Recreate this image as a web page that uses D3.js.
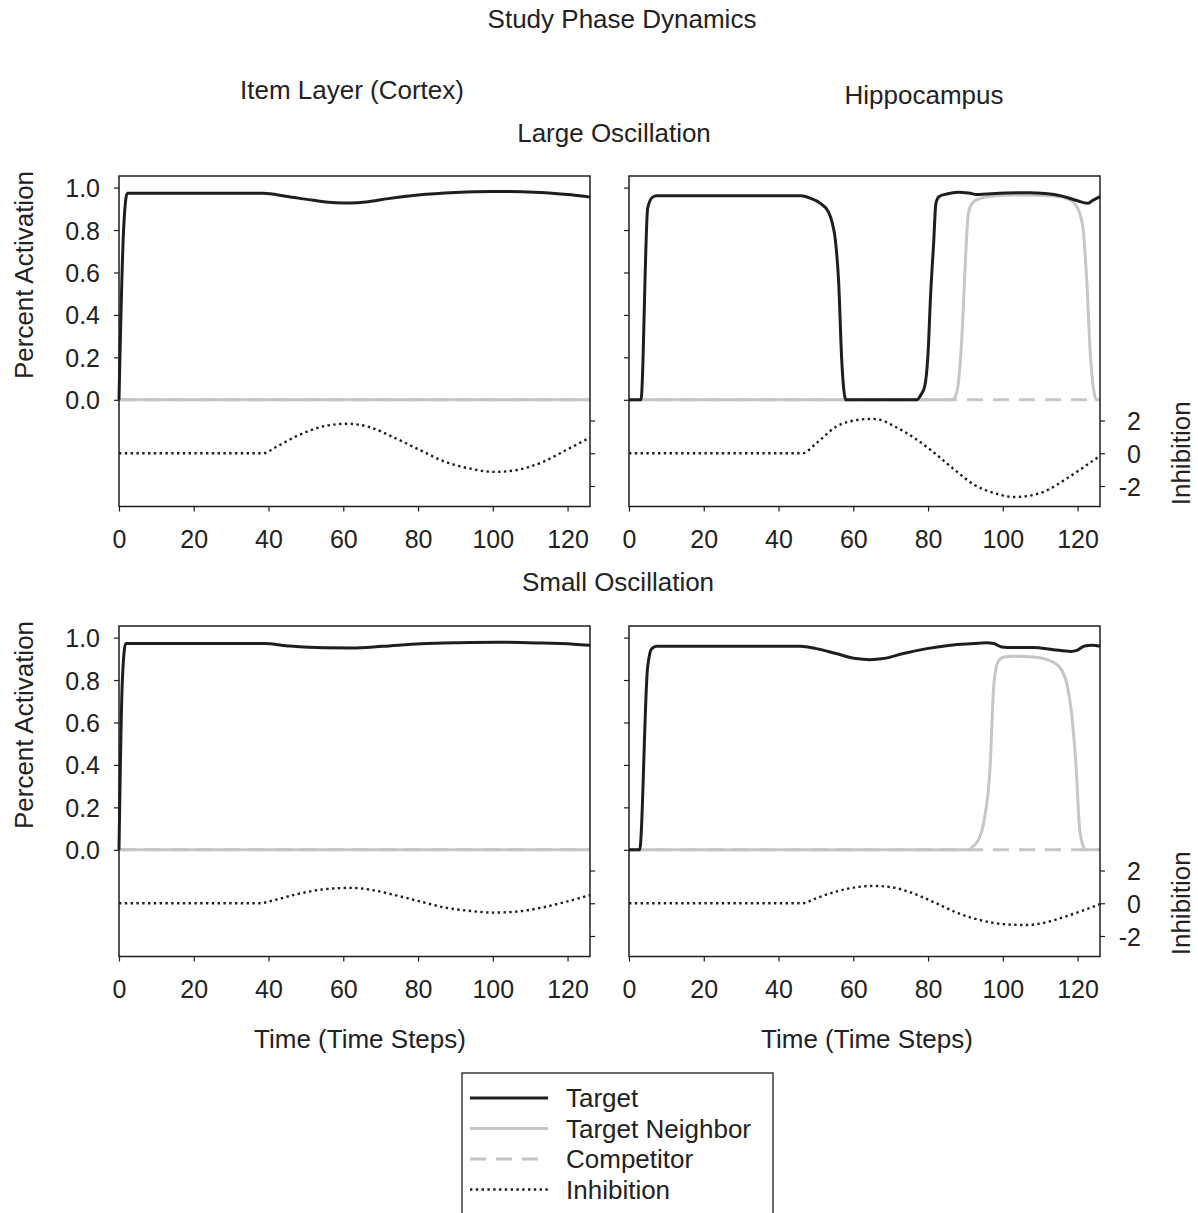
<!DOCTYPE html>
<html><head><meta charset="utf-8">
<script src="https://cdn.jsdelivr.net/npm/d3@7"></script>
<style>
body{margin:0;background:#fff}
text{font-family:"Liberation Sans",Arial,Helvetica,sans-serif;fill:#222}
</style>
</head><body>
<svg id="chart" width="1198" height="1213"></svg>
<script>
// ---------- data ----------
const timeTicks = [0, 20, 40, 60, 80, 100, 120];
const activationTicks = [0, 0.2, 0.4, 0.6, 0.8, 1.0];
const inhibitionTicks = [-2, 0, 2];
const seriesNames = ["Target", "Target Neighbor", "Competitor", "Inhibition"];
const rowTitles = ["Large Oscillation", "Small Oscillation"];
const colTitles = ["Item Layer (Cortex)", "Hippocampus"];

// Large oscillation, cortex
const largeCortexTarget = [[0,0],[1.2,0.79],[2.2,0.973],[38.5,0.973],[45,0.958],[52,0.94],[58,0.929],[62,0.928],[66,0.932],[72,0.948],[80,0.965],[90,0.977],[100,0.982],[108,0.981],[115,0.975],[121,0.966],[126,0.955]];
const largeCortexNeighbor = [[0,0],[126,0]];
const largeCortexCompetitor = [[0,0],[126,0]];
const largeCortexInhibition = [[0,0],[38.5,0],[42,0.38],[48,1.1],[55,1.66],[61,1.8],[67,1.6],[73,1.02],[80.5,0.2],[87,-0.5],[94,-0.94],[100.5,-1.14],[106.5,-1.02],[113.5,-0.52],[119.5,0.18],[126,0.96]];

// Large oscillation, hippocampus
const largeHippoTarget = [[0,0],[3.2,0],[5,0.903],[6.3,0.955],[7.4,0.962],[45.9,0.962],[48.5,0.95],[51.2,0.926],[53.3,0.887],[54.4,0.832],[55.2,0.754],[56.1,0.55],[56.9,0.19],[58,0],[77,0],[78.1,0.024],[79.1,0.063],[80,0.22],[80.7,0.5],[81.5,0.74],[82.1,0.926],[83,0.958],[85,0.97],[88.1,0.978],[89.7,0.976],[91.3,0.973],[92.9,0.967],[95.5,0.97],[100.8,0.975],[107.1,0.976],[111.3,0.972],[115.6,0.961],[119.8,0.939],[122.7,0.926],[124,0.939],[126,0.958]];
const largeHippoNeighbor = [[0,0],[86.5,0],[87.6,0.03],[88.3,0.11],[89.2,0.345],[90,0.66],[90.8,0.88],[91.8,0.926],[93.4,0.945],[96.6,0.958],[102.9,0.965],[113.5,0.96],[117.7,0.945],[119.8,0.91],[121.4,0.816],[122.4,0.58],[123.5,0.19],[125.1,0],[126,0]];
const largeHippoCompetitor = [[0,0],[126,0]];
const largeHippoInhibition = [[0,0],[46.4,0],[50.1,0.61],[55.4,1.62],[60.7,2.02],[64.9,2.1],[67,2.05],[71.2,1.62],[76.5,0.91],[81.8,0],[87.1,-1.01],[92.3,-1.92],[97.6,-2.42],[102.9,-2.67],[106.1,-2.63],[111.3,-2.32],[116.6,-1.62],[121.9,-0.81],[126,-0.15]];

// Small oscillation, cortex
const smallCortexTarget = [[0,0],[0.9,0.8],[1.8,0.972],[38.7,0.972],[45.8,0.96],[55,0.952],[62.3,0.951],[70.5,0.959],[80.7,0.971],[91,0.976],[101.2,0.978],[111.5,0.975],[121.7,0.969],[126,0.964]];
const smallCortexNeighbor = [[0,0],[126,0]];
const smallCortexCompetitor = [[0,0],[126,0]];
const smallCortexInhibition = [[0,0],[37.6,0],[41.7,0.2],[47.9,0.57],[55.1,0.86],[62.3,0.94],[67.4,0.82],[73.6,0.51],[80.7,0.1],[86.9,-0.25],[94.1,-0.47],[100.2,-0.57],[106.4,-0.51],[113.5,-0.25],[119.7,0.1],[126,0.5]];

// Small oscillation, hippocampus
const smallHippoTarget = [[0,0],[2.85,0],[4.96,0.857],[6.1,0.948],[7.4,0.959],[45.9,0.959],[50.1,0.948],[55.4,0.925],[60.7,0.901],[64.4,0.896],[68.1,0.901],[73.4,0.925],[79.7,0.948],[86,0.964],[92.3,0.972],[95.5,0.976],[97.6,0.972],[99.7,0.956],[102.9,0.953],[108.2,0.953],[113.5,0.943],[118.2,0.935],[119.8,0.94],[121.9,0.96],[124,0.964],[126,0.959]];
const smallHippoNeighbor = [[0,0],[90.8,0],[91.8,0.013],[93.4,0.044],[95,0.138],[96.6,0.39],[97.6,0.78],[98.7,0.885],[100.3,0.909],[102.9,0.912],[108.2,0.909],[111.9,0.896],[115.1,0.862],[117.1,0.783],[118.5,0.626],[119.6,0.39],[120.6,0.091],[121.9,0.005],[122.5,0],[126,0]];
const smallHippoCompetitor = [[0,0],[126,0]];
const smallHippoInhibition = [[0,0],[46.4,0],[50.1,0.31],[55.4,0.71],[60.7,0.98],[65.5,1.06],[70.2,0.98],[75.5,0.65],[81.8,0.04],[88.1,-0.61],[94.5,-1.06],[100.8,-1.29],[106.1,-1.33],[111.3,-1.18],[116.6,-0.82],[121.9,-0.41],[126,-0.05]];

// ---------- layout ----------
const panels = [
  {row:0,col:0,target:largeCortexTarget,neighbor:largeCortexNeighbor,competitor:largeCortexCompetitor,inhibition:largeCortexInhibition},
  {row:0,col:1,target:largeHippoTarget,neighbor:largeHippoNeighbor,competitor:largeHippoCompetitor,inhibition:largeHippoInhibition},
  {row:1,col:0,target:smallCortexTarget,neighbor:smallCortexNeighbor,competitor:smallCortexCompetitor,inhibition:smallCortexInhibition},
  {row:1,col:1,target:smallHippoTarget,neighbor:smallHippoNeighbor,competitor:smallHippoCompetitor,inhibition:smallHippoInhibition}
];

const svg = d3.select("#chart");
const W = 471, H = 330.5;
const colLeft = [119, 629], rowTop = [176, 626];
const BLACK = "#1e1e1e", GRAY = "#c6c6c6";
const styles = {
  target:{stroke:BLACK,width:3,dash:null},
  neighbor:{stroke:GRAY,width:3,dash:null},
  competitor:{stroke:GRAY,width:3,dash:"16,10"},
  inhibition:{stroke:BLACK,width:2.4,dash:"2.4,3.4"}
};

const x = d3.scaleLinear().domain([0,126]).range([0,W]);
const yAct = d3.scaleLinear().domain([0,1]).range([223.8,11.6]);
const yInh = d3.scaleLinear().domain([-2,2]).range([310,244.5]);

const lineAct = d3.line().x(d=>x(d[0])).y(d=>yAct(d[1])).curve(d3.curveMonotoneX);
const lineInh = d3.line().x(d=>x(d[0])).y(d=>yInh(d[1])).curve(d3.curveMonotoneX);

function styleAxis(g){
  g.select(".domain").remove();
  g.selectAll(".tick line").attr("stroke",BLACK).attr("stroke-width",1.2);
  g.selectAll(".tick text").style("font-size","25px").attr("fill","#222")
    .style("font-family",'"Liberation Sans",Arial,Helvetica,sans-serif');
}

panels.forEach(p=>{
  const g = svg.append("g").attr("transform",`translate(${colLeft[p.col]},${rowTop[p.row]})`);
  const draw = (data, line, st) => {
    const path = g.append("path").attr("d", line(data)).attr("fill","none")
      .attr("stroke", st.stroke).attr("stroke-width", st.width).attr("stroke-linejoin","round");
    if (st.dash) path.attr("stroke-dasharray", st.dash);
  };
  draw(p.competitor, lineAct, styles.competitor);
  draw(p.neighbor, lineAct, styles.neighbor);
  draw(p.inhibition, lineInh, styles.inhibition);
  draw(p.target, lineAct, styles.target);

  g.append("rect").attr("width",W).attr("height",H).attr("fill","none")
    .attr("stroke",BLACK).attr("stroke-width",1.5);

  // bottom axis
  const xa = g.append("g").attr("transform",`translate(0,${H})`)
    .call(d3.axisBottom(x).tickValues(timeTicks).tickSize(5).tickFormat(d3.format("d")));
  styleAxis(xa);
  xa.selectAll(".tick text").attr("y",41.5).attr("dy",null);

  // left axis (activation)
  const ya = g.append("g").call(d3.axisLeft(yAct).tickValues(activationTicks).tickSize(5)
    .tickFormat(p.col===0 ? d3.format(".1f") : ()=>""));
  styleAxis(ya);
  ya.selectAll(".tick text").attr("x",-19).attr("dy","0.36em");

  // right axis (inhibition)
  const ra = g.append("g").attr("transform",`translate(${W},0)`)
    .call(d3.axisRight(yInh).tickValues(inhibitionTicks).tickSize(5)
    .tickFormat(p.col===1 ? (d=>String(d)) : ()=>""));
  styleAxis(ra);
  ra.selectAll(".tick text").attr("x",41).attr("text-anchor","end").attr("dy","0.36em");

  if (p.col===0) {
    svg.append("text").attr("transform",`translate(33,${rowTop[p.row]+99}) rotate(-90)`)
      .attr("text-anchor","middle").style("font-size","26px").text("Percent Activation");
  } else {
    svg.append("text").attr("transform",`translate(1190,${rowTop[p.row]+yInh(0)}) rotate(-90)`)
      .attr("text-anchor","middle").style("font-size","26px").text("Inhibition");
  }
});

// titles
const T = (txt,xx,yy)=>svg.append("text").attr("x",xx).attr("y",yy).attr("text-anchor","middle").style("font-size","26px").text(txt);
T("Study Phase Dynamics", 622, 28);
T(colTitles[0], 352, 99);
T(colTitles[1], 924, 104);
T(rowTitles[0], 614, 142);
T(rowTitles[1], 618, 591);
T("Time (Time Steps)", 360, 1048);
T("Time (Time Steps)", 867, 1048);

// legend
const lg = svg.append("g");
lg.append("rect").attr("x",462).attr("y",1073).attr("width",311).attr("height",200)
  .attr("fill","none").attr("stroke",BLACK).attr("stroke-width",1.3);
const legendStyles = [styles.target, styles.neighbor, styles.competitor, styles.inhibition];
const legendY = [1098, 1128.5, 1159, 1189.5];
seriesNames.forEach((name,i)=>{
  const st = legendStyles[i];
  const l = lg.append("line").attr("x1",470).attr("x2",548).attr("y1",legendY[i]).attr("y2",legendY[i])
    .attr("stroke",st.stroke).attr("stroke-width",st.width);
  if (st.dash) l.attr("stroke-dasharray", st.dash);
  lg.append("text").attr("x",566).attr("y",legendY[i]).attr("dy","0.35em").style("font-size","26px").text(name);
});
</script>
</body></html>
